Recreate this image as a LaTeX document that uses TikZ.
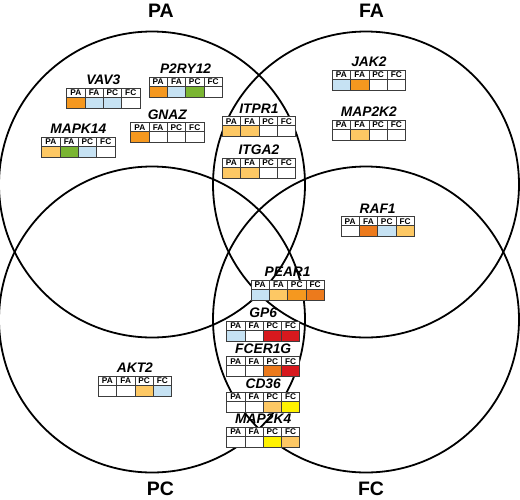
\documentclass[tikz,border=0pt]{standalone}
\usepackage{fontspec}
\setmainfont{Liberation Sans}
\definecolor{orng}{HTML}{F5981F}
\definecolor{lorng}{HTML}{FDC864}
\definecolor{dorng}{HTML}{EC7A1C}
\definecolor{lblue}{HTML}{C6E2F3}
\definecolor{grn}{HTML}{7AB532}
\definecolor{rd}{HTML}{D7191E}
\definecolor{ylw}{HTML}{FFF200}
\definecolor{brd}{HTML}{3C3C3C}
\tikzset{
  setcirc/.style={circle, draw=black, line width=1.8pt, minimum size=306pt, inner sep=0pt},
  setlab/.style={font=\fontsize{19.5}{21}\selectfont\bfseries, inner sep=0pt},
  hdr/.style={draw=brd, line width=0.7pt, fill=white, minimum width=18.3pt, minimum height=9pt, inner sep=0pt, font=\fontsize{8.3}{9}\selectfont\bfseries},
  dat/.style={draw=brd, line width=0.7pt, minimum width=18.3pt, minimum height=11pt, inner sep=0pt},
  gname/.style={font=\fontsize{13.8}{15}\selectfont\bfseries\itshape, inner sep=0pt, anchor=base}
}
% #1 name, #2 left x, #3 top y (downwards), #4-#7 fill colours
\newcommand{\genetab}[7]{%
  \foreach \lab/\col [count=\i from 0] in {PA/#4,FA/#5,PC/#6,FC/#7} {
    \node[hdr] (#1-h\i) at (#2+\i*18.3+9.15, -#3-4.5) {\lab};
    \node[dat, fill=\col] (#1-d\i) at (#2+\i*18.3+9.15, -#3-14.5) {};
  }
  \node[gname] (#1) at (#2+36.6, -#3+3.6) {#1};
}
\begin{document}
\begin{tikzpicture}[x=1pt, y=1pt]
\useasboundingbox (0,0) rectangle (520,-499);
% sets
\node[setcirc] (PAc) at (152,-184.5) {};
\node[setcirc] (FAc) at (366,-184.5) {};
\node[setcirc] (PCc) at (152,-319.5) {};
\node[setcirc] (FCc) at (366,-319.5) {};
\node[setlab] (PAlab) at (161,-11) {PA};
\node[setlab] (FAlab) at (371.5,-11) {FA};
\node[setlab] (PClab) at (160.5,-488.5) {PC};
\node[setlab] (FClab) at (371,-488.5) {FC};
% genes
\genetab{VAV3}{66.7}{88.3}{orng}{lblue}{lblue}{white}
\genetab{P2RY12}{149}{77.3}{orng}{lblue}{grn}{white}
\genetab{MAPK14}{41.7}{137.3}{lorng}{grn}{lblue}{white}
\genetab{GNAZ}{130.7}{122.7}{orng}{white}{white}{white}
\genetab{ITPR1}{222.3}{116.7}{lorng}{lorng}{white}{white}
\genetab{ITGA2}{222.3}{158.3}{lorng}{lorng}{white}{white}
\genetab{JAK2}{332.3}{70}{lblue}{orng}{white}{white}
\genetab{MAP2K2}{332.3}{120}{white}{lorng}{white}{white}
\genetab{RAF1}{341}{216.7}{white}{dorng}{lblue}{lorng}
\genetab{PEAR1}{251}{280}{lblue}{lorng}{orng}{dorng}
\genetab{GP6}{226.6}{321}{lblue}{white}{rd}{rd}
\genetab{FCER1G}{226.6}{356.7}{white}{white}{dorng}{rd}
\genetab{CD36}{226.6}{392.5}{white}{white}{lorng}{ylw}
\genetab{MAP2K4}{226.6}{427.3}{white}{white}{ylw}{lorng}
\genetab{AKT2}{98.3}{376}{white}{white}{lorng}{lblue}
\end{tikzpicture}
\end{document}
